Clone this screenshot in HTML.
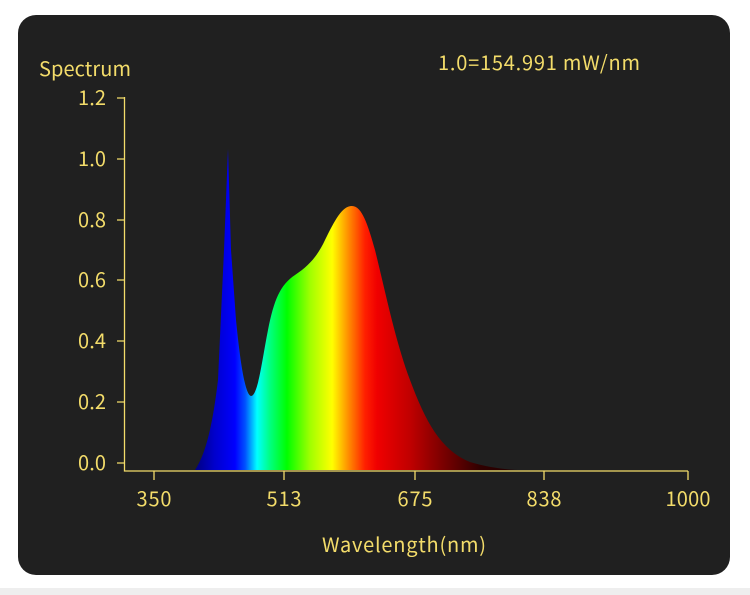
<!DOCTYPE html>
<html><head><meta charset="utf-8"><style>
html,body{margin:0;padding:0;background:#fff;}
svg{display:block;}
text{font-family:"Noto Sans CJK SC","DejaVu Sans",sans-serif;fill:#f3dc6a;}
</style></head><body>
<svg width="750" height="595" viewBox="0 0 750 595">
<rect x="0" y="588" width="750" height="7" fill="#eeeeee"/>
<rect x="18" y="15" width="712" height="560" rx="18" fill="#202020"/>
<defs>
<linearGradient id="g" gradientUnits="userSpaceOnUse" x1="195" y1="0" x2="520" y2="0">
<stop offset="0" stop-color="#000080"/>
<stop offset="0.06" stop-color="#0000cc"/>
<stop offset="0.123" stop-color="#0000ff"/>
<stop offset="0.154" stop-color="#0050ff"/>
<stop offset="0.191" stop-color="#00ffff"/>
<stop offset="0.231" stop-color="#00ff80"/>
<stop offset="0.283" stop-color="#00ff00"/>
<stop offset="0.354" stop-color="#a0ff00"/>
<stop offset="0.422" stop-color="#ffff00"/>
<stop offset="0.471" stop-color="#ff9000"/>
<stop offset="0.523" stop-color="#ff2000"/>
<stop offset="0.56" stop-color="#f00000"/>
<stop offset="0.662" stop-color="#c00000"/>
<stop offset="0.754" stop-color="#800000"/>
<stop offset="0.877" stop-color="#300000"/>
<stop offset="1" stop-color="#200000"/>
</linearGradient>
</defs>
<path fill="url(#g)" d="M195,470 C205,455 212,430 218,380 L224,250 L228,149 L231,250 L236,320 C240,360 245,395 251,396 C258,396 262,360 268,330 C274,300 280,285 295,275 C310,265 318,255 325,240 C335,220 342,206 352,206 C362,206 368,225 375,250 C385,290 395,340 410,380 C425,420 440,450 470,462 C490,468 510,470 520,470 Z"/>
<g stroke="#f3dc6a" stroke-width="1.3" fill="none">
<path d="M124.5,97 V471 H688"/>
<path d="M117,98 H124.5 M117,159 H124.5 M117,220 H124.5 M117,280 H124.5 M117,341 H124.5 M117,402 H124.5 M117,463 H124.5"/>
<path d="M154,471 V480 M284,471 V480 M415,471 V480 M544,471 V480 M688,471 V480"/>
</g>
<g font-size="20" text-anchor="end">
<text x="106" y="105" textLength="28">1.2</text>
<text x="106" y="166" textLength="28">1.0</text>
<text x="106" y="227" textLength="28">0.8</text>
<text x="106" y="287" textLength="28">0.6</text>
<text x="106" y="348" textLength="28">0.4</text>
<text x="106" y="409" textLength="28">0.2</text>
<text x="106" y="470" textLength="28">0.0</text>
</g>
<g font-size="20" text-anchor="middle">
<text x="154" y="506" textLength="35">350</text>
<text x="284" y="506" textLength="35">513</text>
<text x="415" y="506" textLength="35">675</text>
<text x="544" y="506" textLength="35">838</text>
<text x="688" y="506" textLength="45">1000</text>
<text x="404" y="552" textLength="164">Wavelength(nm)</text>
</g>
<text x="39" y="76" font-size="20" textLength="92">Spectrum</text>
<text x="438" y="70" font-size="20" textLength="202">1.0=154.991 mW/nm</text>
</svg>
</body></html>
